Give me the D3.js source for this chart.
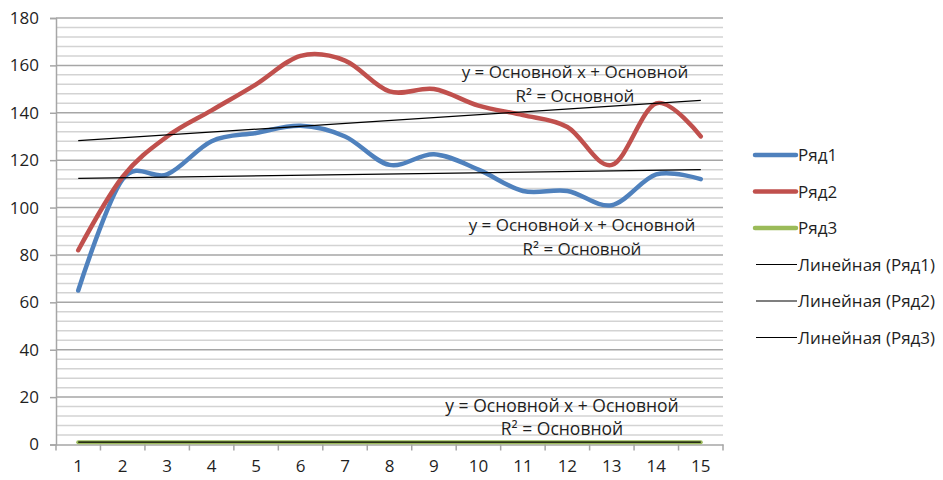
<!DOCTYPE html>
<html><head><meta charset="utf-8">
<script src="https://cdn.jsdelivr.net/npm/d3@7"></script>
<style>body{margin:0;background:#fff}svg{display:block}text{font-family:"Open Sans",sans-serif;fill:#1f1f1f}</style>
</head><body><svg id="c" width="943" height="480"></svg>
<script>
const categories = ["1","2","3","4","5","6","7","8","9","10","11","12","13","14","15"];
const series1 = [65,112,114,128,131.5,134.5,130,118,122.5,116,107,107,101,114,112];
const series2 = [82,113,130,141,152,164,162,149,150,143,139,134,118,144,130];
const series3 = [1,1,1,1,1,1,1,1,1,1,1,1,1,1,1];
const seriesNames = ["Ряд1","Ряд2","Ряд3"];
const trendNames = ["Линейная (Ряд1)","Линейная (Ряд2)","Линейная (Ряд3)"];
const yTicks = [0,20,40,60,80,100,120,140,160,180];
const trendLabel1 = "y = Основной x + Основной";
const trendLabel2 = "R² = Основной";

const colors = ["#4F81BD","#C0504D","#9BBB59"];
const svg = d3.select("#c");
const L=56, R=723, T=18, B=444.5;
const x = d3.scaleBand().domain(categories).range([L,R]);
const y = d3.scaleLinear().domain([0,180]).range([B,T]);
const cx = c => x(c)+x.bandwidth()/2;

// minor gridlines
const minor = d3.range(0,181,4).filter(v=>v%20!==0);
svg.append("g").selectAll("line").data(minor).join("line")
  .attr("x1",L).attr("x2",R).attr("y1",d=>y(d)).attr("y2",d=>y(d))
  .attr("stroke","#d3d3d3").attr("stroke-width",1.5);
svg.append("g").selectAll("line").data(yTicks.filter(v=>v>0)).join("line")
  .attr("x1",L).attr("x2",R).attr("y1",d=>y(d)).attr("y2",d=>y(d))
  .attr("stroke","#a6a6a6").attr("stroke-width",1.5);

// y axis
const ya = svg.append("g").attr("transform",`translate(${L},0)`)
  .call(d3.axisLeft(y).tickValues(yTicks).tickSize(6).tickPadding(11));
ya.select(".domain").attr("stroke","#a6a6a6").attr("stroke-width",1.5);
ya.selectAll(".tick line").attr("stroke","#a6a6a6").attr("stroke-width",1.5);
ya.selectAll("text").style("font-size","17px").attr("fill","#1f1f1f");

// x axis
const xa = svg.append("g").attr("transform",`translate(0,${B})`)
  .call(d3.axisBottom(x).tickSize(0).tickPadding(15));
xa.select(".domain").attr("stroke","#a6a6a6").attr("stroke-width",1.5);
xa.selectAll("text").style("font-size","17px").attr("fill","#1f1f1f");
const bounds = categories.map(c=>x(c)).concat([R]);
xa.selectAll(".xt").data(bounds).join("line").attr("class","xt")
  .attr("x1",d=>d).attr("x2",d=>d).attr("y1",0).attr("y2",6)
  .attr("stroke","#a6a6a6").attr("stroke-width",1.5);

const all = [series1,series2,series3];
const line = d3.line().x((d,i)=>cx(categories[i])).y(d=>y(d)).curve(d3.curveCardinal.tension(0));
all.forEach((s,k)=>{
  svg.append("path").datum(s).attr("d",line).attr("fill","none")
    .attr("stroke",colors[k]).attr("stroke-width",k===2?4:4.5).attr("stroke-linecap","round");
});
// trend lines
function fit(s){const xs=s.map((d,i)=>i+1);
  const mx=d3.mean(xs), my=d3.mean(s);
  const b=d3.sum(xs.map((xv,i)=>(xv-mx)*(s[i]-my)))/d3.sum(xs.map(xv=>(xv-mx)**2));
  return [my-b*mx,b];}
all.forEach(s=>{
  const [a,b]=fit(s);
  svg.append("line").attr("x1",cx(categories[0])).attr("x2",cx(categories[14]))
    .attr("y1",y(a+b*1)).attr("y2",y(a+b*15)).attr("stroke","#000").attr("stroke-width",1.2);
});
// trend labels
const labelPos = [[575,78,102],[582,231,255],[562,412,435]];
labelPos.forEach((p,i)=>{
  const fs = i===2 ? "17.5px" : "17px";
  svg.append("text").attr("x",p[0]).attr("y",p[1]).attr("text-anchor","middle").style("font-size",fs).text(trendLabel1);
  svg.append("text").attr("x",p[0]).attr("y",p[2]).attr("text-anchor","middle").style("font-size",fs).text(trendLabel2);
});
// legend
const leg = svg.append("g");
const rows = seriesNames.map((n,i)=>({n,c:colors[i],w:4.5})).concat(trendNames.map(n=>({n,c:"#000",w:1.2})));
rows.forEach((r,i)=>{
  const yy = 155 + i*36.5;
  leg.append("line").attr("x1",r.w>2?755:756).attr("x2",r.w>2?796:797).attr("y1",yy).attr("y2",yy)
    .attr("stroke",r.c).attr("stroke-width",r.w).attr("stroke-linecap",r.w>2?"round":"butt");
  leg.append("text").attr("x",798).attr("y",yy+6).style("font-size","17px").text(r.n);
});
</script></body></html>
